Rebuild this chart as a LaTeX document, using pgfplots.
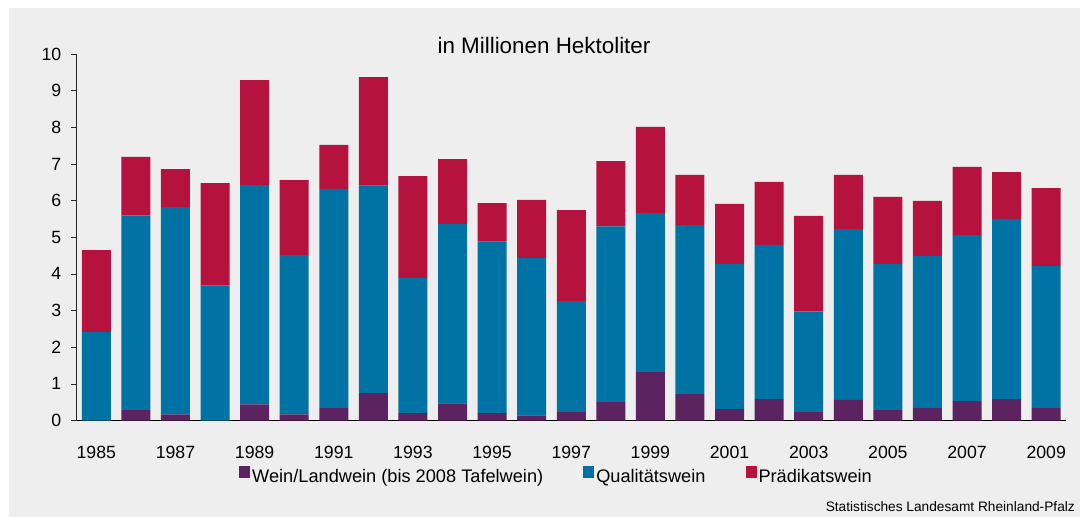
\documentclass[border=0pt]{standalone}
\usepackage{pgfplots}
\pgfplotsset{compat=1.18}
\usepackage{pgfplotstable}
\usepackage{fontspec}
\setmainfont{Liberation Sans}
\definecolor{cPurple}{RGB}{91,35,96}
\definecolor{cBlue}{RGB}{0,114,163}
\definecolor{cRed}{RGB}{181,19,61}
\definecolor{cBg}{RGB}{237,238,237}
\pgfplotstableread{
x a b c
0 0.00 2.42 2.23
1 0.28 5.32 1.59
2 0.17 5.65 1.04
3 0.00 3.69 2.79
4 0.44 5.98 2.87
5 0.17 4.34 2.05
6 0.34 5.98 1.20
7 0.75 5.66 2.96
8 0.20 3.69 2.78
9 0.47 4.89 1.77
10 0.20 4.68 1.05
11 0.14 4.30 1.58
12 0.23 3.03 2.48
13 0.50 4.80 1.78
14 1.32 4.34 2.35
15 0.72 4.61 1.37
16 0.31 3.96 1.64
17 0.58 4.21 1.72
18 0.23 2.75 2.60
19 0.56 4.66 1.48
20 0.28 3.99 1.83
21 0.34 4.15 1.50
22 0.53 4.53 1.86
23 0.58 4.92 1.28
24 0.34 3.87 2.13
}\wine
\begin{document}
\begin{tikzpicture}
\useasboundingbox (0,0) rectangle (1080pt,-517pt);
\fill[white] (0,0) rectangle (1080pt,-517pt);
\fill[cBg] (9pt,-8pt) rectangle (1080pt,-516.5pt);
\node[anchor=base, inner sep=0pt, font=\fontsize{22.4}{26}\selectfont] at (544pt,-53pt) {in Millionen Hektoliter};
\node[anchor=base east, inner sep=0pt, font=\fontsize{13.7}{16}\selectfont] at (1075pt,-511pt) {Statistisches Landesamt Rheinland-Pfalz};
\begin{axis}[
  at={(76.5pt,-420.5pt)}, anchor=south west,
  scale only axis, width=989.5pt, height=366.5pt,
  ybar stacked, bar width=29pt,
  xmin=-0.5, xmax=24.5, ymin=0, ymax=10,
  axis lines=left, axis line style={-},
  x axis line style={black, line width=0.9pt},
  y axis line style={black!85, line width=0.7pt},
  xtick={0,2,...,24},
  xticklabels={1985,1987,1989,1991,1993,1995,1997,1999,2001,2003,2005,2007,2009},
  ytick={0,1,...,10},
  xtick style={draw=none},
  ytick style={black!85, line width=0.7pt},
  tick align=outside, major tick length=5pt,
  /pgf/number format/assume math mode=true,
  tick label style={font=\fontsize{17.7}{21}\selectfont},
  xticklabel style={anchor=base, inner sep=0pt, yshift=-33pt},
  yticklabel style={anchor=east, inner sep=0pt, xshift=-10pt},
  legend columns=3,
  legend image code/.code={\fill[#1] (0pt,-1pt) rectangle (11pt,11pt);},
  legend style={at={(0.4851,-0.1514)}, anchor=center, draw=none, fill=none,
    font=\fontsize{18.2}{22}\selectfont,
    /tikz/every even column/.append style={column sep=38pt}},
]
\addplot[fill=cPurple, draw=none] table[x=x, y=a] {\wine};
\addplot[fill=cBlue, draw=none] table[x=x, y=b] {\wine};
\addplot[fill=cRed, draw=none] table[x=x, y=c] {\wine};
\legend{Wein/Landwein (bis 2008 Tafelwein),Qualitätswein,Prädikatswein}
\end{axis}
\end{tikzpicture}
\end{document}
